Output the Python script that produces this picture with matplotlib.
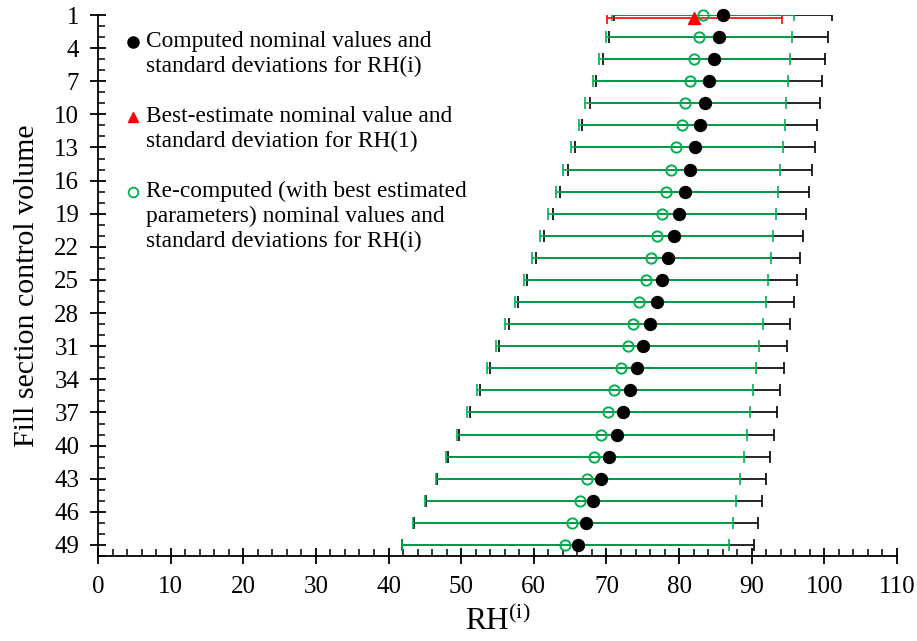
import matplotlib
matplotlib.use('Agg')
import matplotlib.pyplot as plt
from matplotlib.ticker import MultipleLocator
import numpy as np

plt.rcParams['font.family'] = ['Liberation Serif', 'DejaVu Serif']
plt.rcParams['mathtext.fontset'] = 'custom'
plt.rcParams['mathtext.rm'] = 'Liberation Serif'

# control volumes (every second one is shown)
volumes = [1, 3, 5, 7, 9, 11, 13, 15, 17, 19, 21, 23, 25,
           27, 29, 31, 33, 35, 37, 39, 41, 43, 45, 47, 49]

# computed nominal values and their lower / upper bounds
computed = [86.05, 85.46, 84.8, 84.1, 83.5, 82.9, 82.15, 81.5, 80.8, 80.0, 79.3, 78.5, 77.7,
            76.9, 76.0, 75.1, 74.2, 73.25, 72.3, 71.4, 70.3, 69.3, 68.2, 67.2, 66.1]
computed_lo = [71.1, 70.3, 69.5, 68.6, 67.7, 66.7, 65.7, 64.7, 63.6, 62.6, 61.4, 60.3, 59.0,
               57.8, 56.6, 55.2, 53.9, 52.6, 51.2, 49.7, 48.2, 46.7, 45.1, 43.5, 41.9]
computed_hi = [101.0, 100.5, 100.1, 99.7, 99.4, 99.0, 98.7, 98.25, 97.9, 97.5, 97.1, 96.6, 96.2,
               95.8, 95.3, 94.9, 94.4, 93.9, 93.5, 93.0, 92.5, 92.0, 91.4, 90.9, 90.3]

# re-computed with best estimated parameters
recomp = [83.25, 82.7, 82.1, 81.5, 80.8, 80.35, 79.6, 78.9, 78.25, 77.6, 76.9, 76.1, 75.4,
          74.5, 73.7, 72.9, 72.0, 71.1, 70.2, 69.3, 68.3, 67.35, 66.4, 65.3, 64.3]
recomp_lo = [70.7, 69.9, 69.0, 68.1, 67.0, 66.2, 65.1, 64.0, 63.0, 61.95, 60.9, 59.8, 58.6,
             57.4, 56.1, 54.8, 53.5, 52.2, 50.8, 49.4, 47.9, 46.5, 45.0, 43.4, 41.9]
recomp_hi = [95.8, 95.55, 95.3, 95.0, 94.7, 94.6, 94.3, 93.9, 93.6, 93.3, 92.9, 92.6, 92.2,
             91.9, 91.5, 91.05, 90.6, 90.2, 89.8, 89.3, 88.9, 88.4, 87.9, 87.4, 86.9]

# best estimate for RH(1)
best_y = [1.25]
best = [82.0]
best_lo = [70.1]
best_hi = [94.1]

ytick_vals = [1, 4, 7, 10, 13, 16, 19, 22, 25, 28, 31, 34, 37, 40, 43, 46, 49]
xtick_vals = [0, 10, 20, 30, 40, 50, 60, 70, 80, 90, 100, 110]

legend_labels = ['Computed nominal values and\nstandard deviations for RH(i)',
                 'Best-estimate nominal value and\nstandard deviation for RH(1)',
                 'Re-computed (with best estimated\nparameters) nominal values and\nstandard deviations for RH(i)']

GREEN = '#00B050'

fig = plt.figure(figsize=(9.17, 6.41), dpi=100)
ax = fig.add_axes([98/917, 85/641, 799/917, 541/641])

def err(mean, lo, hi):
    m = np.array(mean); return [m - np.array(lo), np.array(hi) - m]

# bars first, markers on top
ax.errorbar(computed, volumes, xerr=err(computed, computed_lo, computed_hi), fmt='none',
            ecolor='black', elinewidth=1.2, capsize=4.2, capthick=1.2, zorder=2)
ax.errorbar(recomp, volumes, xerr=err(recomp, recomp_lo, recomp_hi), fmt='none',
            ecolor=GREEN, elinewidth=1.2, capsize=4.2, capthick=1.2, zorder=3)
ax.errorbar(best, best_y, xerr=err(best, best_lo, best_hi), fmt='none',
            ecolor='red', elinewidth=1.2, capsize=4.2, capthick=1.2, zorder=4)
ax.plot(computed, volumes, 'o', color='black', ms=8.6, zorder=5, clip_on=False)
ax.plot(recomp, volumes, 'o', mfc='none', mec=GREEN, ms=7.4, mew=1.4, zorder=6, clip_on=False)
ax.plot(best, best_y, '^', color='red', ms=8.5, zorder=7, clip_on=False)

ax.set_xlim(0, 110)
ax.set_ylim(50, 1)
ax.set_xticks(xtick_vals)
ax.set_yticks(ytick_vals)
ax.xaxis.set_minor_locator(MultipleLocator(2))
ax.yaxis.set_minor_locator(MultipleLocator(1))
ax.tick_params(which='major', direction='inout', length=11, width=1.3, labelsize=18, pad=9)
ax.tick_params(which='minor', direction='in', length=5, width=1.1)
ax.tick_params(axis='y', which='major', pad=8)
for s in ['top', 'right']:
    ax.spines[s].set_visible(False)
for s in ['left', 'bottom']:
    ax.spines[s].set_linewidth(1.3)

ax.set_xlabel(r'RH$^{\mathrm{(i)}}$', fontsize=22.5, labelpad=5)
ax.set_ylabel('Fill section control volume', fontsize=21.5, labelpad=10)

# hand-made legend, marker beside first line of each entry
leg_markers = [dict(marker='o', color='black', ms=8),
               dict(marker='^', color='red', ms=7.5),
               dict(marker='o', mfc='none', mec=GREEN, ms=7, mew=1.3)]
leg_y = [0.9507, 0.8120, 0.6734]
line_step = 0.0462
for lab, mk, y0 in zip(legend_labels, leg_markers, leg_y):
    ax.plot([0.0442], [y0], transform=ax.transAxes, linestyle='none', clip_on=False, **mk)
    for k, line in enumerate(lab.split('\n')):
        ax.text(0.0601, y0 - k*line_step, line, transform=ax.transAxes,
                fontsize=16.8, va='center', ha='left')

fig.savefig('out.png', dpi=100)
